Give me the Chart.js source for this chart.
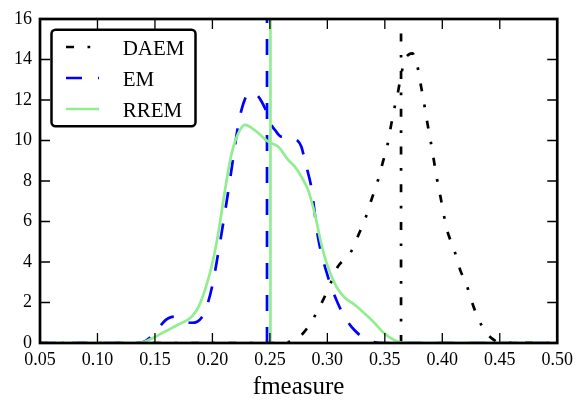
<!DOCTYPE html>
<html>
<head>
<meta charset="utf-8">
<script src="https://cdn.jsdelivr.net/npm/chart.js@4/dist/chart.umd.min.js"></script>
<style>
  html, body { margin: 0; padding: 0; background: #ffffff; }
  #wrap { width: 579px; height: 400px; position: relative; }
  #probe { position: absolute; left: -9999px; font-family: "Liberation Serif"; }
</style>
</head>
<body>
<div id="wrap"><canvas id="chart" width="579" height="400"></canvas></div>
<span id="probe">0.05 fmeasure DAEM</span>
<script>
// Kernel density estimates of the f-measure for each method
const daemX = [0.05, 0.26, 0.267, 0.2789, 0.289, 0.2962, 0.3025, 0.3091, 0.315, 0.3206, 0.3264, 0.3336, 0.3385, 0.3437, 0.348, 0.3523, 0.3552, 0.3581, 0.3615, 0.3644, 0.3675, 0.371, 0.374, 0.3782, 0.381, 0.384, 0.3868, 0.3897, 0.3926, 0.395, 0.3984, 0.4041, 0.4099, 0.4156, 0.4209, 0.4257, 0.4315, 0.4387, 0.443, 0.45, 0.5];
const daemY = [0, 0, 0.06, 0.48, 1.33, 2.12, 2.9, 3.77, 4.15, 4.51, 5.25, 6.24, 7.1, 7.97, 8.87, 9.78, 10.68, 11.54, 12.41, 13.3, 14.0, 14.25, 14.3, 13.7, 12.83, 11.89, 10.93, 10.02, 9.04, 8.21, 7.22, 5.58, 4.68, 3.6, 2.91, 2.04, 1.17, 0.48, 0.23, 0.02, 0];

const emX = [0.05, 0.135, 0.142, 0.148, 0.154, 0.1594, 0.164, 0.168, 0.172, 0.1767, 0.1817, 0.1867, 0.1905, 0.194, 0.1997, 0.2055, 0.2126, 0.218, 0.2227, 0.227, 0.2314, 0.2357, 0.2395, 0.243, 0.2472, 0.251, 0.2544, 0.26, 0.266, 0.272, 0.2774, 0.2803, 0.2832, 0.286, 0.2918, 0.3005, 0.3091, 0.316, 0.3235, 0.3322, 0.34, 0.35, 0.5];
const emY = [0, 0, 0.1, 0.4, 0.8, 1.14, 1.28, 1.3, 1.2, 1.05, 1.0, 1.05, 1.25, 1.63, 2.78, 4.59, 7.06, 9.1, 10.85, 11.84, 12.33, 12.35, 12.2, 11.9, 11.4, 10.8, 10.52, 10.19, 10.19, 10.1, 9.69, 9.04, 8.4, 7.7, 5.25, 3.27, 1.96, 1.2, 0.64, 0.23, 0.05, 0, 0];

const rremX = [0.05, 0.13, 0.14, 0.15, 0.16, 0.17, 0.182, 0.188, 0.194, 0.2, 0.205, 0.21, 0.215, 0.22, 0.2285, 0.237, 0.2487, 0.2573, 0.266, 0.2717, 0.2775, 0.2832, 0.289, 0.2947, 0.3005, 0.3077, 0.315, 0.3235, 0.3322, 0.3408, 0.3494, 0.358, 0.365, 0.38, 0.5];
const rremY = [0, 0, 0.05, 0.3, 0.6, 0.9, 1.3, 1.8, 2.7, 3.95, 5.4, 7.2, 8.9, 10.0, 10.77, 10.5, 9.94, 9.69, 9.04, 8.71, 8.2, 7.56, 6.4, 4.9, 3.75, 2.8, 2.25, 1.9, 1.47, 1.0, 0.48, 0.15, 0.02, 0, 0];

// Reference f-measure of each method (vertical markers)
const daemRef = 0.3641;
const emRef = 0.2475;
const rremRef = 0.2505;

const seriesNames = ['DAEM', 'EM', 'RREM'];
const xTicks = [0.05, 0.10, 0.15, 0.20, 0.25, 0.30, 0.35, 0.40, 0.45, 0.50];
const yTicks = [0, 2, 4, 6, 8, 10, 12, 14, 16];

const DASH = [16, 16];
const DASHDOT = [8, 13.5, 2.7, 13.5];
const LW = 2.7;
const SERIF = '"Liberation Serif", "Times New Roman", Times, serif';

const toPts = (xs, ys) => xs.map((x, i) => ({ x: x, y: ys[i] }));
const vline = (x) => [{ x: x, y: yTicks[0] }, { x: x, y: yTicks[yTicks.length - 1] }];

function curve(label, xs, ys, color, dash, order) {
  return {
    label: label, data: toPts(xs, ys), borderColor: color, borderWidth: LW,
    borderDash: dash, borderCapStyle: 'butt', pointRadius: 0, fill: false,
    cubicInterpolationMode: 'monotone', order: order, inLegend: true
  };
}
function marker(x, color, dash, order) {
  return {
    label: '', data: vline(x), borderColor: color, borderWidth: LW,
    borderDash: dash, borderCapStyle: 'butt', pointRadius: 0, fill: false,
    tension: 0, order: order, inLegend: false
  };
}

// Inward ticks on all four sides plus the plot frame
const framePlugin = {
  id: 'frame',
  afterDatasetsDraw(chart) {
    const { ctx, chartArea: a, scales } = chart;
    ctx.save();
    ctx.strokeStyle = '#000';
    ctx.lineWidth = 1.3;
    const tl = 10;
    ctx.beginPath();
    xTicks.forEach(v => {
      const px = scales.x.getPixelForValue(v);
      ctx.moveTo(px, a.bottom); ctx.lineTo(px, a.bottom - tl);
      ctx.moveTo(px, a.top); ctx.lineTo(px, a.top + tl);
    });
    yTicks.forEach(v => {
      const py = scales.y.getPixelForValue(v);
      ctx.moveTo(a.left, py); ctx.lineTo(a.left + tl, py);
      ctx.moveTo(a.right, py); ctx.lineTo(a.right - tl, py);
    });
    ctx.stroke();
    ctx.lineWidth = 2.7;
    ctx.strokeRect(a.left, a.top, a.right - a.left, a.bottom - a.top);
    ctx.restore();
  }
};

// Boxed legend in the upper-left corner of the plot
const legendPlugin = {
  id: 'boxLegend',
  afterDraw(chart) {
    const { ctx, chartArea: a } = chart;
    const items = seriesNames.map(n => chart.data.datasets.find(d => d.inLegend && d.label === n));
    const bx = a.left + 11.5, by = a.top + 10.7, bw = 144, bh = 96.5, r = 4;
    ctx.save();
    ctx.beginPath();
    ctx.moveTo(bx + r, by);
    ctx.arcTo(bx + bw, by, bx + bw, by + bh, r);
    ctx.arcTo(bx + bw, by + bh, bx, by + bh, r);
    ctx.arcTo(bx, by + bh, bx, by, r);
    ctx.arcTo(bx, by, bx + bw, by, r);
    ctx.closePath();
    ctx.fillStyle = '#fff';
    ctx.fill();
    ctx.lineWidth = 2.5;
    ctx.strokeStyle = '#000';
    ctx.stroke();
    const rowY = [47, 78, 109];
    items.forEach((d, i) => {
      const y = rowY[i];
      ctx.beginPath();
      ctx.setLineDash(d.borderDash);
      ctx.lineDashOffset = 0;
      ctx.lineCap = 'butt';
      ctx.lineWidth = d.borderWidth;
      ctx.strokeStyle = d.borderColor;
      ctx.moveTo(a.left + 26, y);
      ctx.lineTo(a.left + 59, y);
      ctx.stroke();
      ctx.setLineDash([]);
      ctx.fillStyle = '#000';
      ctx.font = '21px ' + SERIF;
      ctx.textAlign = 'left';
      ctx.textBaseline = 'alphabetic';
      ctx.fillText(d.label, a.left + 82.7, y + 7.5);
    });
    ctx.restore();
  }
};

function draw() {
  new Chart(document.getElementById('chart'), {
    type: 'line',
    data: {
      datasets: [
        curve(seriesNames[0], daemX, daemY, '#000000', DASHDOT, 6),
        marker(daemRef, '#000000', DASHDOT, 5),
        curve(seriesNames[1], emX, emY, '#0000ff', DASH, 4),
        marker(emRef, '#0000ff', DASH, 3),
        curve(seriesNames[2], rremX, rremY, '#90ee90', [], 2),
        marker(rremRef, '#90ee90', [], 1)
      ]
    },
    options: {
      responsive: false,
      animation: false,
      events: [],
      layout: { padding: { top: 19, right: 18, left: 0, bottom: 0 } },
      plugins: { legend: { display: false }, tooltip: { enabled: false } },
      scales: {
        x: {
          type: 'linear', min: 0.05, max: 0.5,
          afterBuildTicks(s) { s.ticks = xTicks.map(v => ({ value: v })); },
          afterFit(s) { s.height = 57; },
          grid: { display: false, drawTicks: false },
          border: { display: false },
          ticks: {
            color: '#000', padding: 6, maxRotation: 0, autoSkip: false,
            font: { family: SERIF, size: 18 },
            callback: v => Number(v).toFixed(2)
          },
          title: {
            display: true, text: 'fmeasure', color: '#000',
            font: { family: SERIF, size: 25, lineHeight: 1 },
            padding: { top: 0, bottom: 0 }
          }
        },
        y: {
          type: 'linear', min: 0, max: 16,
          afterBuildTicks(s) { s.ticks = yTicks.map(v => ({ value: v })); },
          afterFit(s) { s.width = 40; },
          grid: { display: false, drawTicks: false },
          border: { display: false },
          ticks: {
            color: '#000', padding: 8, autoSkip: false,
            font: { family: SERIF, size: 18 },
            callback: v => String(v)
          }
        }
      }
    },
    plugins: [framePlugin, legendPlugin]
  });
}

const fontReady = document.fonts && document.fonts.load
  ? Promise.all([document.fonts.load('18px "Liberation Serif"'), document.fonts.load('25px "Liberation Serif"')])
  : Promise.resolve();
fontReady.then(draw, draw);
</script>
</body>
</html>
